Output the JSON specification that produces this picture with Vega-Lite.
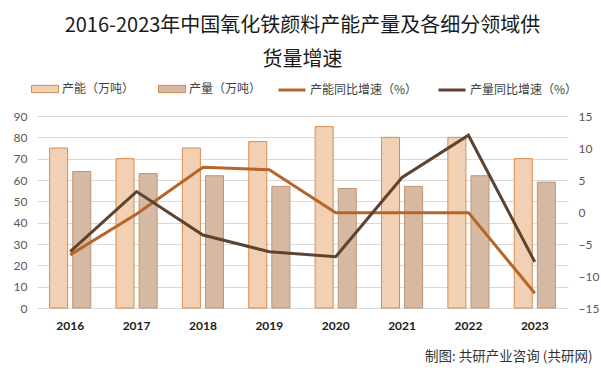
{
  "$schema": "https://vega.github.io/schema/vega-lite/v6.json",
  "width": 531,
  "height": 192,
  "autosize": {"type": "none"},
  "padding": {"left": 37, "top": 116, "right": 33, "bottom": 66},
  "background": "white",
  "title": {
    "text": ["2016-2023年中国氧化铁颜料产能产量及各细分领域供", "货量增速"],
    "font": "Noto Sans CJK SC",
    "fontSize": 20,
    "fontWeight": "normal",
    "color": "#1a1a1a",
    "anchor": "middle",
    "frame": "group",
    "lineHeight": 34,
    "offset": 5
  },
  "datasets": {
    "bars": [
      {"year": "2016", "series": "产能（万吨）", "value": 75},
      {"year": "2016", "series": "产量（万吨）", "value": 64},
      {"year": "2017", "series": "产能（万吨）", "value": 70},
      {"year": "2017", "series": "产量（万吨）", "value": 63},
      {"year": "2018", "series": "产能（万吨）", "value": 75},
      {"year": "2018", "series": "产量（万吨）", "value": 62},
      {"year": "2019", "series": "产能（万吨）", "value": 78},
      {"year": "2019", "series": "产量（万吨）", "value": 57},
      {"year": "2020", "series": "产能（万吨）", "value": 85},
      {"year": "2020", "series": "产量（万吨）", "value": 56},
      {"year": "2021", "series": "产能（万吨）", "value": 80},
      {"year": "2021", "series": "产量（万吨）", "value": 57},
      {"year": "2022", "series": "产能（万吨）", "value": 80},
      {"year": "2022", "series": "产量（万吨）", "value": 62},
      {"year": "2023", "series": "产能（万吨）", "value": 70},
      {"year": "2023", "series": "产量（万吨）", "value": 59}
    ],
    "lines": [
      {"year": "2016", "series": "产能同比增速（%）", "value": -6.7},
      {"year": "2017", "series": "产能同比增速（%）", "value": -0.3},
      {"year": "2018", "series": "产能同比增速（%）", "value": 7.0},
      {"year": "2019", "series": "产能同比增速（%）", "value": 6.6},
      {"year": "2020", "series": "产能同比增速（%）", "value": -0.1},
      {"year": "2021", "series": "产能同比增速（%）", "value": -0.1},
      {"year": "2022", "series": "产能同比增速（%）", "value": -0.1},
      {"year": "2023", "series": "产能同比增速（%）", "value": -12.7},
      {"year": "2016", "series": "产量同比增速（%）", "value": -6.2},
      {"year": "2017", "series": "产量同比增速（%）", "value": 3.2},
      {"year": "2018", "series": "产量同比增速（%）", "value": -3.6},
      {"year": "2019", "series": "产量同比增速（%）", "value": -6.2},
      {"year": "2020", "series": "产量同比增速（%）", "value": -7.0},
      {"year": "2021", "series": "产量同比增速（%）", "value": 5.4},
      {"year": "2022", "series": "产量同比增速（%）", "value": 12.0},
      {"year": "2023", "series": "产量同比增速（%）", "value": -7.8}
    ]
  },
  "encoding": {
    "x": {
      "field": "year",
      "type": "nominal",
      "scale": {"paddingInner": 0.38, "paddingOuter": 0.19},
      "axis": {
        "labelAngle": 0,
        "labelFont": "Lato",
        "labelFontWeight": "bold",
        "labelFontSize": 12,
        "labelColor": "#1a1a1a",
        "labelPadding": 12,
        "domain": false,
        "ticks": false,
        "title": "制图: 共研产业咨询 (共研网)",
        "titleFont": "Noto Sans CJK SC",
        "titleFontSize": 13.5,
        "titleFontWeight": "normal",
        "titleColor": "#333333",
        "titleAnchor": "end",
        "titleAlign": "right",
        "titleBaseline": "middle",
        "titleX": 555,
        "titleY": 48
      }
    }
  },
  "layer": [
    {
      "data": {"name": "bars"},
      "mark": {"type": "bar", "strokeWidth": 1},
      "encoding": {
        "xOffset": {"field": "series", "type": "nominal", "scale": {"paddingInner": 0.22}},
        "y": {
          "field": "value",
          "type": "quantitative",
          "scale": {"domain": [0, 90]},
          "axis": {
            "values": [0, 10, 20, 30, 40, 50, 60, 70, 80, 90],
            "grid": true,
            "gridColor": "#D9D9D9",
            "domain": false,
            "ticks": false,
            "labelFont": "Lato",
            "labelFontSize": 12,
            "labelColor": "#595959",
            "labelPadding": 10,
            "title": null
          }
        },
        "fill": {
          "field": "series",
          "type": "nominal",
          "scale": {"domain": ["产能（万吨）", "产量（万吨）"], "range": ["#F1D0B4", "#D6B9A3"]},
          "legend": {
            "title": null,
            "orient": "none",
            "legendX": -6,
            "legendY": -41,
            "direction": "horizontal",
            "symbolType": "M-1,-0.27H1V0.27H-1Z",
            "symbolSize": 729,
            "symbolStrokeColor": "#D08A4F",
            "symbolStrokeWidth": 1,
            "labelFont": "Noto Sans CJK SC",
            "labelFontSize": 12,
            "labelColor": "#404040",
            "labelOffset": 3,
            "columnPadding": 21
          }
        },
        "stroke": {
          "condition": {"test": "datum.series === '产能（万吨）'", "value": "#D98C4F"},
          "value": "#C3926E"
        }
      }
    },
    {
      "data": {"name": "lines"},
      "mark": {"type": "line", "strokeWidth": 3},
      "encoding": {
        "y": {
          "field": "value",
          "type": "quantitative",
          "scale": {"domain": [-15, 15]},
          "axis": {
            "orient": "right",
            "values": [-15, -10, -5, 0, 5, 10, 15],
            "grid": false,
            "domain": false,
            "ticks": false,
            "labelFont": "Lato",
            "labelFontSize": 12,
            "labelColor": "#595959",
            "labelPadding": 10,
            "title": null
          }
        },
        "stroke": {
          "field": "series",
          "type": "nominal",
          "scale": {"domain": ["产能同比增速（%）", "产量同比增速（%）"], "range": ["#B5652A", "#5E4330"]},
          "legend": {
            "title": null,
            "orient": "none",
            "legendX": 240,
            "legendY": -41,
            "direction": "horizontal",
            "symbolType": "stroke",
            "symbolSize": 729,
            "symbolStrokeWidth": 3,
            "labelFont": "Noto Sans CJK SC",
            "labelFontSize": 12,
            "labelColor": "#404040",
            "labelOffset": 3,
            "columnPadding": 14
          }
        }
      }
    }
  ],
  "resolve": {"scale": {"y": "independent"}},
  "config": {"view": {"stroke": null}}
}
